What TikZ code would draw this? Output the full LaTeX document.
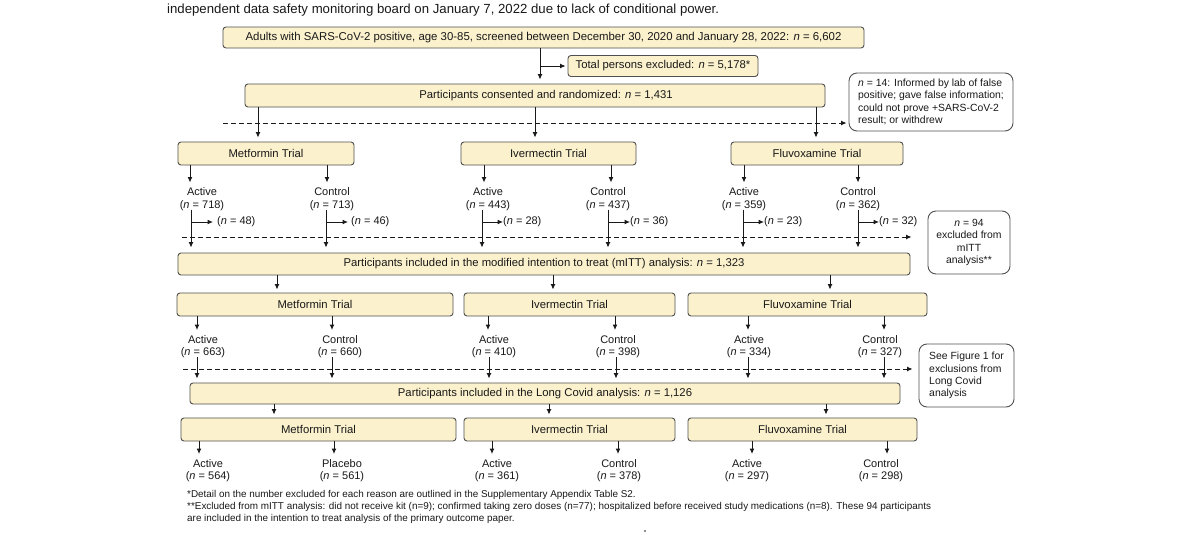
\documentclass[tikz,border=0pt]{standalone}
\usepackage{fontspec}
\setmainfont{Liberation Sans}
\usetikzlibrary{arrows.meta}
\definecolor{boxfill}{RGB}{251,241,205}
\definecolor{edge}{RGB}{80,80,80}
\definecolor{ink}{RGB}{25,25,25}
\begin{document}
\begin{tikzpicture}[x=1pt,y=-1pt,
 box/.style={draw=edge, fill=boxfill, rounded corners=3pt, line width=0.9pt, inner sep=0pt, font=\fontsize{11.3}{13}\selectfont, text=ink},
 note/.style={draw=edge, fill=white, rounded corners=8pt, line width=0.9pt, inner sep=0pt, font=\fontsize{10.4}{12.3}\selectfont, text=ink},
 lbl/.style={inner sep=0pt, align=center, anchor=north, font=\fontsize{11}{12.5}\selectfont, text=ink},
 xl/.style={inner sep=0pt, anchor=west, font=\fontsize{11}{12.5}\selectfont, text=ink},
 arr/.style={draw=ink, line width=1pt, -{Latex[length=5.5pt,width=5pt]}},
 ln/.style={draw=ink, line width=1pt},
 darr/.style={arr, dash pattern=on 5pt off 3pt},
]
\useasboundingbox (0,0) rectangle (1200,554);
\fill[white] (0,0) rectangle (1200,554);

% heading fragment
\node[anchor=west, inner sep=0pt, font=\fontsize{13.2}{15}\selectfont, text=ink] (head) at (167,10) {independent data safety monitoring board on January 7, 2022 due to lack of conditional power.};

% top
\node[box, minimum width=641pt, minimum height=21pt, font=\fontsize{11.4}{13}\selectfont] (screen) at (543.5,37.5) {Adults with SARS-CoV-2 positive, age 30-85, screened between December 30, 2020 and January 28, 2022: \textit{n} = 6,602};
\node[box, minimum width=190pt, minimum height=21pt] (excl) at (663,66) {Total persons excluded: \textit{n} = 5,178*};
\node[box, minimum width=580pt, minimum height=23pt] (cons) at (535,95.5) {};
\node[inner sep=0pt, font=\fontsize{11.3}{13}\selectfont, text=ink] (constext) at (546,95.5) {Participants consented and randomized: \textit{n} = 1,431};
\draw[arr, shorten >=4pt] (540,0 |- screen.south) -- (540,0 |- cons.north);
\coordinate (b0) at (540,66);
\draw[arr, shorten >=2pt] (b0) -- (excl.west);

\node[note, minimum width=164pt, minimum height=58pt, align=left] (note1) at (931,102) {\textit{n} = 14: Informed by lab of false\\positive; gave false information;\\could not prove +SARS-CoV-2\\result; or withdrew};
\coordinate (d0) at (223,123);
\draw[darr, shorten >=2pt] (d0) -- (d0 -| note1.west);

% row 1
\node[box, minimum width=176pt, minimum height=23pt] (met1) at (266,153.5) {Metformin Trial};
\node[box, minimum width=175pt, minimum height=23pt] (ive1) at (548.5,153.5) {Ivermectin Trial};
\node[box, minimum width=172pt, minimum height=23pt] (flu1) at (817,153.5) {Fluvoxamine Trial};
\draw[arr, shorten >=4pt] (258,0 |- cons.south) -- (258,0 |- met1.north);
\draw[arr, shorten >=4pt] (535,0 |- cons.south) -- (535,0 |- ive1.north);
\draw[arr, shorten >=4pt] (816,0 |- cons.south) -- (816,0 |- flu1.north);

\node[lbl] (l1ma) at (202,187.5) {Active\\(\textit{n} = 718)};
\node[lbl] (l1mc) at (332,187.5) {Control\\(\textit{n} = 713)};
\node[lbl] (l1ia) at (488,187.5) {Active\\(\textit{n} = 443)};
\node[lbl] (l1ic) at (608,187.5) {Control\\(\textit{n} = 437)};
\node[lbl] (l1fa) at (744,187.5) {Active\\(\textit{n} = 359)};
\node[lbl] (l1fc) at (858,187.5) {Control\\(\textit{n} = 362)};
\draw[arr, shorten >=5pt] (190,0 |- met1.south) -- (190,0 |- l1ma.north);
\draw[arr, shorten >=5pt] (327,0 |- met1.south) -- (327,0 |- l1mc.north);
\draw[arr, shorten >=5pt] (484,0 |- ive1.south) -- (484,0 |- l1ia.north);
\draw[arr, shorten >=5pt] (611,0 |- ive1.south) -- (611,0 |- l1ic.north);
\draw[arr, shorten >=5pt] (744,0 |- flu1.south) -- (744,0 |- l1fa.north);
\draw[arr, shorten >=5pt] (858,0 |- flu1.south) -- (858,0 |- l1fc.north);

\node[xl] (x1ma) at (217,222) {(\textit{n} = 48)};
\node[xl] (x1mc) at (351,222) {(\textit{n} = 46)};
\node[xl] (x1ia) at (503,222) {(\textit{n} = 28)};
\node[xl] (x1ic) at (630,222) {(\textit{n} = 36)};
\node[xl] (x1fa) at (764,222) {(\textit{n} = 23)};
\node[xl] (x1fc) at (879,222) {(\textit{n} = 32)};

\node[box, minimum width=732pt, minimum height=22pt] (mitt) at (544,264) {Participants included in the modified intention to treat (mITT) analysis: \textit{n} = 1,323};
\node[note, minimum width=82pt, minimum height=63pt, align=center] (note2) at (969,242.5) {\textit{n} = 94\\excluded from\\mITT\\analysis**};

\draw[arr, shorten >=5pt] ([yshift=1pt]191,0 |- l1ma.south) -- (191,0 |- mitt.north);
\draw[arr, shorten >=5pt] ([yshift=1pt]326,0 |- l1mc.south) -- (326,0 |- mitt.north);
\draw[arr, shorten >=5pt] ([yshift=1pt]482,0 |- l1ia.south) -- (482,0 |- mitt.north);
\draw[arr, shorten >=5pt] ([yshift=1pt]608,0 |- l1ic.south) -- (608,0 |- mitt.north);
\draw[arr, shorten >=5pt] ([yshift=1pt]743,0 |- l1fa.south) -- (743,0 |- mitt.north);
\draw[arr, shorten >=5pt] ([yshift=1pt]858,0 |- l1fc.south) -- (858,0 |- mitt.north);
\coordinate (b1ma) at (191,222); \draw[arr, shorten >=4pt] (b1ma) -- (x1ma.west);
\coordinate (b1mc) at (326,222); \draw[arr, shorten >=3pt] (b1mc) -- (x1mc.west);
\coordinate (b1ia) at (482,222); \draw[arr] (b1ia) -- (x1ia.west);
\coordinate (b1ic) at (608,222); \draw[arr] (b1ic) -- (x1ic.west);
\coordinate (b1fa) at (743,222); \draw[arr] (b1fa) -- (x1fa.west);
\coordinate (b1fc) at (858,222); \draw[arr] (b1fc) -- (x1fc.west);
\coordinate (d1) at (182,237);
\draw[darr, shorten >=16pt] (d1) -- (d1 -| note2.west);

% row 2
\node[box, minimum width=276pt, minimum height=23pt] (met2) at (315,304.5) {Metformin Trial};
\node[box, minimum width=211pt, minimum height=23pt] (ive2) at (569.5,304.5) {Ivermectin Trial};
\node[box, minimum width=239pt, minimum height=23pt] (flu2) at (807.5,304.5) {Fluvoxamine Trial};
\draw[arr, shorten >=3pt] (277,0 |- mitt.south) -- (277,0 |- met2.north);
\draw[arr, shorten >=3pt] (553,0 |- mitt.south) -- (553,0 |- ive2.north);
\draw[arr, shorten >=3pt] (830,0 |- mitt.south) -- (830,0 |- flu2.north);

\node[lbl] (l2ma) at (203,335) {Active\\(\textit{n} = 663)};
\node[lbl] (l2mc) at (340,335) {Control\\(\textit{n} = 660)};
\node[lbl] (l2ia) at (494,335) {Active\\(\textit{n} = 410)};
\node[lbl] (l2ic) at (618,335) {Control\\(\textit{n} = 398)};
\node[lbl] (l2fa) at (749,335) {Active\\(\textit{n} = 334)};
\node[lbl] (l2fc) at (880,335) {Control\\(\textit{n} = 327)};
\draw[arr, shorten >=5pt] (197,0 |- met2.south) -- (197,0 |- l2ma.north);
\draw[arr, shorten >=5pt] (332,0 |- met2.south) -- (332,0 |- l2mc.north);
\draw[arr, shorten >=5pt] (488,0 |- ive2.south) -- (488,0 |- l2ia.north);
\draw[arr, shorten >=5pt] (615,0 |- ive2.south) -- (615,0 |- l2ic.north);
\draw[arr, shorten >=5pt] (748,0 |- flu2.south) -- (748,0 |- l2fa.north);
\draw[arr, shorten >=5pt] (884,0 |- flu2.south) -- (884,0 |- l2fc.north);

\node[box, minimum width=710pt, minimum height=21pt] (lc) at (545,393.5) {Participants included in the Long Covid analysis: \textit{n} = 1,126};
\node[note, minimum width=95pt, minimum height=63pt, align=left] (note3) at (966.5,375.5) {See Figure 1 for\\exclusions from\\Long Covid\\analysis};
\draw[arr, shorten >=4pt] ([yshift=1pt]197,0 |- l2ma.south) -- (197,0 |- lc.north);
\draw[arr, shorten >=4pt] ([yshift=1pt]332,0 |- l2mc.south) -- (332,0 |- lc.north);
\draw[arr, shorten >=4pt] ([yshift=1pt]489,0 |- l2ia.south) -- (489,0 |- lc.north);
\draw[arr, shorten >=4pt] ([yshift=1pt]616,0 |- l2ic.south) -- (616,0 |- lc.north);
\draw[arr, shorten >=4pt] ([yshift=1pt]748,0 |- l2fa.south) -- (748,0 |- lc.north);
\draw[arr, shorten >=4pt] ([yshift=1pt]884,0 |- l2fc.south) -- (884,0 |- lc.north);
\coordinate (d2) at (183,369);
\draw[darr, shorten >=6pt] (d2) -- (d2 -| note3.west);

% row 3
\node[box, minimum width=275pt, minimum height=23pt] (met3) at (318.5,429.5) {Metformin Trial};
\node[box, minimum width=211pt, minimum height=23pt] (ive3) at (569.5,429.5) {Ivermectin Trial};
\node[box, minimum width=229pt, minimum height=23pt] (flu3) at (802.5,429.5) {Fluvoxamine Trial};
\draw[arr, shorten >=3pt] (274,0 |- lc.south) -- (274,0 |- met3.north);
\draw[arr, shorten >=3pt] (549,0 |- lc.south) -- (549,0 |- ive3.north);
\draw[arr, shorten >=3pt] (826,0 |- lc.south) -- (826,0 |- flu3.north);

\node[lbl] (l3ma) at (208,459) {Active\\(\textit{n} = 564)};
\node[lbl] (l3mc) at (342,459) {Placebo\\(\textit{n} = 561)};
\node[lbl] (l3ia) at (497,459) {Active\\(\textit{n} = 361)};
\node[lbl] (l3ic) at (619,459) {Control\\(\textit{n} = 378)};
\node[lbl] (l3fa) at (747,459) {Active\\(\textit{n} = 297)};
\node[lbl] (l3fc) at (881,459) {Control\\(\textit{n} = 298)};
\draw[arr, shorten >=5pt] (199,0 |- met3.south) -- (199,0 |- l3ma.north);
\draw[arr, shorten >=5pt] (334,0 |- met3.south) -- (334,0 |- l3mc.north);
\draw[arr, shorten >=5pt] (492,0 |- ive3.south) -- (492,0 |- l3ia.north);
\draw[arr, shorten >=5pt] (618,0 |- ive3.south) -- (618,0 |- l3ic.north);
\draw[arr, shorten >=5pt] (752,0 |- flu3.south) -- (752,0 |- l3fa.north);
\draw[arr, shorten >=5pt] (887,0 |- flu3.south) -- (887,0 |- l3fc.north);

% footnotes
\node[anchor=north west, inner sep=0pt, align=left, font=\fontsize{9.9}{11.8}\selectfont, text=ink] (foot) at (187,490.5) {*Detail on the number excluded for each reason are outlined in the Supplementary Appendix Table S2.\\**Excluded from mITT analysis: did not receive kit (n=9); confirmed taking zero doses (n=77); hospitalized before received study medications (n=8). These 94 participants\\are included in the intention to treat analysis of the primary outcome paper.};
\fill[ink] (645,531) circle (0.8pt);
\end{tikzpicture}
\end{document}
